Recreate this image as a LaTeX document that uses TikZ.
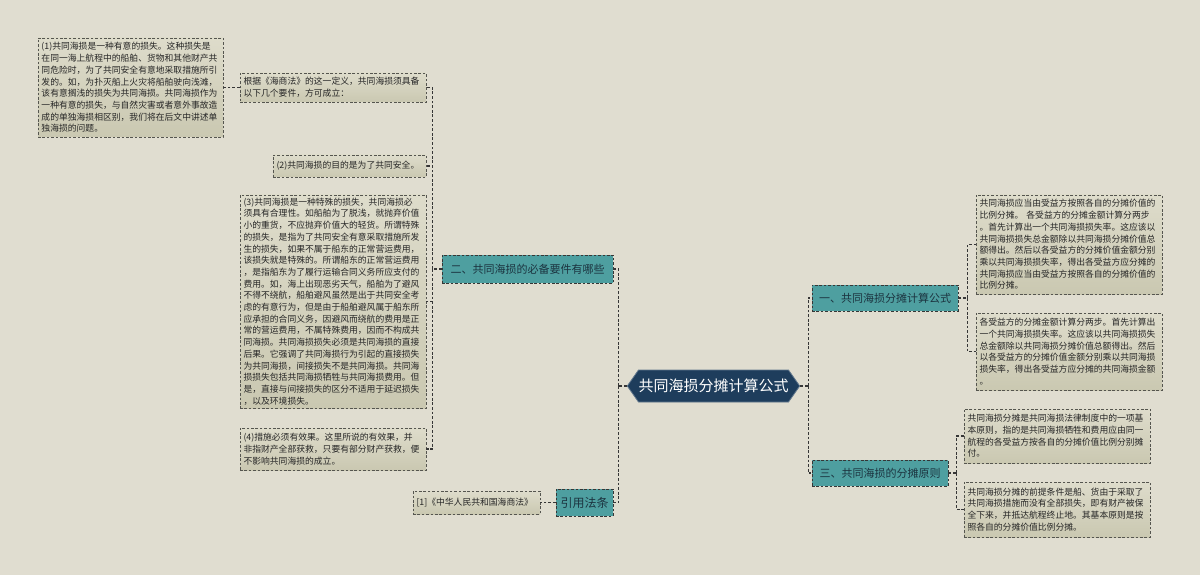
\documentclass[tikz,border=0pt]{standalone}
\usepackage{fontspec}
\setmainfont{Noto Sans CJK SC}
\usetikzlibrary{shapes.geometric,shapes.symbols}
\definecolor{bgc}{HTML}{E0DDD0}
\definecolor{leaftop}{HTML}{DEDCCB}
\definecolor{leafbot}{HTML}{CAC8B1}
\definecolor{leafborder}{HTML}{55554F}
\definecolor{tealc}{HTML}{4E9FA0}
\definecolor{tealtext}{HTML}{1C3440}
\definecolor{rootc}{HTML}{1E3D5C}
\definecolor{linec}{HTML}{363636}
\tikzset{
  leaf/.style={draw=leafborder, line width=0.9pt, dash pattern=on 2.6pt off 1.8pt,
    top color=leaftop, bottom color=leafbot, align=left, inner xsep=3.5pt, inner ysep=2pt,
    font=\fontsize{8.8}{11.7}\selectfont, text=black!85, anchor=center},
  branch/.style={draw=linec, line width=0.9pt, dash pattern=on 2.6pt off 1.8pt,
    fill=tealc, text=tealtext, font=\fontsize{11}{13}\selectfont, inner sep=0pt, anchor=center},
  conn/.style={draw=linec, line width=1.3pt, dash pattern=on 2.8pt off 1.8pt}
}
\begin{document}
\begin{tikzpicture}[x=1pt,y=-1pt]
\useasboundingbox (0,0) rectangle (1200,575);
\fill[bgc] (0,0) rectangle (1200,575);
% root
\node[draw=rootc!70!white, line width=0.8pt, fill=rootc, text=white, font=\fontsize{15}{17}\selectfont,
  shape=signal, signal to=west and east, signal pointer angle=110, minimum width=167pt, minimum height=32pt, inner sep=0pt]
  (root) at (713.5,386) {共同海损分摊计算公式};
% branches
\node[branch, minimum width=171pt, minimum height=28pt] (b2) at (527.5,269) {二、共同海损的必备要件有哪些};
\node[branch, minimum width=57pt, minimum height=27pt, font=\fontsize{12}{14}\selectfont] (b4) at (584.5,502.5) {引用法条};
\node[branch, minimum width=146pt, minimum height=26pt] (b1) at (885,298) {一、共同海损分摊计算公式};
\node[branch, minimum width=136pt, minimum height=26pt] (b3) at (880,473) {三、共同海损的分摊原则};
% left leaves
\node[leaf, text width=178pt, minimum height=99pt] (l1) at (130.5,87.5) {(1)共同海损是一种有意的损失。这种损失是\\在同一海上航程中的船舶、货物和其他财产共\\同危险时，为了共同安全有意地采取措施所引\\发的。如，为扑灭船上火灾将船舶驶向浅滩，\\该有意搁浅的损失为共同海损。共同海损作为\\一种有意的损失，与自然灾害或者意外事故造\\成的单独海损相区别，我们将在后文中讲述单\\独海损的问题。};
\node[leaf, text width=179pt, minimum height=29pt] (l2) at (333,87.5) {根据《海商法》的这一定义，共同海损须具备\\以下几个要件，方可成立：};
\node[leaf, text width=146pt, minimum height=22pt] (l3) at (349.5,166) {(2)共同海损的目的是为了共同安全。};
\node[leaf, text width=179pt, minimum height=213pt] (l4) at (333,301.5) {(3)共同海损是一种特殊的损失，共同海损必\\须具有合理性。如船舶为了脱浅，就抛弃价值\\小的重货，不应抛弃价值大的轻货。所谓特殊\\的损失，是指为了共同安全有意采取措施所发\\生的损失，如果不属于船东的正常营运费用，\\该损失就是特殊的。所谓船东的正常营运费用\\，是指船东为了履行运输合同义务所应支付的\\费用。如，海上出现恶劣天气，船舶为了避风\\不得不绕航，船舶避风虽然是出于共同安全考\\虑的有意行为，但是由于船舶避风属于船东所\\应承担的合同义务，因避风而绕航的费用是正\\常的营运费用，不属特殊费用，因而不构成共\\同海损。共同海损损失必须是共同海损的直接\\后果。它强调了共同海损行为引起的直接损失\\为共同海损，间接损失不是共同海损。共同海\\损损失包括共同海损牺牲与共同海损费用。但\\是，直接与间接损失的区分不适用于延迟损失\\，以及环境损失。};
\node[leaf, text width=179pt, minimum height=42pt] (l5) at (333,449) {(4)措施必须有效果。这里所说的有效果，并\\非指财产全部获救，只要有部分财产获救，便\\不影响共同海损的成立。};
\node[leaf, text width=120pt, minimum height=23pt] (l6) at (476.5,502.5) {[1]《中华人民共和国海商法》};
% right leaves
\node[leaf, text width=179pt, minimum height=99pt] (r1) at (1069,244.5) {共同海损应当由受益方按照各自的分摊价值的\\比例分摊。 各受益方的分摊金额计算分两步\\。首先计算出一个共同海损损失率。这应该以\\共同海损损失总金额除以共同海损分摊价值总\\额得出。然后以各受益方的分摊价值金额分别\\乘以共同海损损失率，得出各受益方应分摊的\\共同海损应当由受益方按照各自的分摊价值的\\比例分摊。};
\node[leaf, text width=179pt, minimum height=77pt] (r2) at (1069,351.5) {各受益方的分摊金额计算分两步。首先计算出\\一个共同海损损失率。这应该以共同海损损失\\总金额除以共同海损分摊价值总额得出。然后\\以各受益方的分摊价值金额分别乘以共同海损\\损失率，得出各受益方应分摊的共同海损金额\\。};
\node[leaf, text width=179pt, minimum height=54pt] (r3) at (1057,436) {共同海损分摊是共同海损法律制度中的一项基\\本原则，指的是共同海损牺牲和费用应由同一\\航程的各受益方按各自的分摊价值比例分别摊\\付。};
\node[leaf, text width=179pt, minimum height=55pt] (r4) at (1057,509.5) {共同海损分摊的前提条件是船、货由于采取了\\共同海损措施而没有全部损失，即有财产被保\\全下来，并抵达航程终止地。其基本原则是按\\照各自的分摊价值比例分摊。};
% connectors
\draw[conn] (root.west) -- ++(-8,0) coordinate (rj);
\draw[conn] (rj) |- (b2.east);
\draw[conn] (rj) |- (b4.east);
\draw[conn] (root.east) -- ++(8,0) coordinate (rk);
\draw[conn] (rk) |- (b1.west);
\draw[conn] (rk) |- (b3.west);
\draw[conn] (b2.west) -- ++(-9,0) coordinate (bj);
\draw[conn] (bj) |- (l2.east);
\draw[conn] (bj) |- (l3.east);
\draw[conn] (bj) |- (l4.east);
\draw[conn] (bj) |- (l5.east);
\draw[conn] (l2.west) -- (l1.east);
\draw[conn] (b4.west) -- (l6.east);
\draw[conn] (b1.east) -- ++(9,0) coordinate (cj);
\draw[conn] (cj) |- (r1.west);
\draw[conn] (cj) |- (r2.west);
\draw[conn] (b3.east) -- ++(8,0) coordinate (dj);
\draw[conn] (dj) |- (r3.west);
\draw[conn] (dj) |- (r4.west);
\end{tikzpicture}
\end{document}
